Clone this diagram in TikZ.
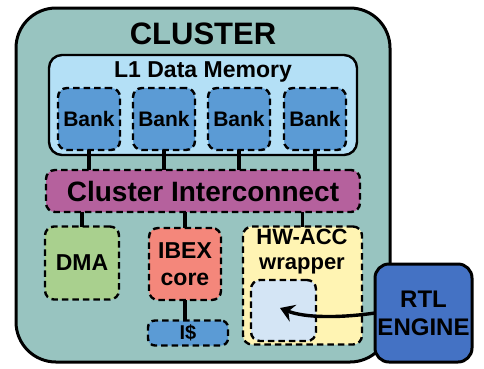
\documentclass[tikz,border=0pt]{standalone}
\usepackage{fontspec}
\setmainfont{Liberation Sans}
\usetikzlibrary{arrows.meta}
\definecolor{clusterc}{HTML}{98C4C0}
\definecolor{l1c}{HTML}{B4E0F6}
\definecolor{bankc}{HTML}{5B9BD5}
\definecolor{icc}{HTML}{B5619D}
\definecolor{dmac}{HTML}{A9D08E}
\definecolor{ibexc}{HTML}{F4877B}
\definecolor{hwc}{HTML}{FFF4B3}
\definecolor{innerc}{HTML}{D4E5F5}
\definecolor{rtlc}{HTML}{4472C4}
\tikzset{
  box/.style={draw=black, rectangle, outer sep=0pt, inner sep=0pt, align=center, font=\bfseries},
  dbox/.style={box, line width=2.4pt, dash pattern=on 6.5pt off 4pt, rounded corners=9pt},
  wire/.style={draw=black, line width=3.4pt},
  fs/.style={font=\bfseries\fontsize{#1}{#1}\selectfont}
}
\begin{document}
\begin{tikzpicture}[x=1pt,y=-1pt]
\useasboundingbox (0,0) rectangle (484,368);
% cluster
\node[box, fill=clusterc, line width=3pt, rounded corners=40pt, minimum width=374pt, minimum height=354pt] (cluster) at (203,185) {};
\node[fs=31] (clusterlbl) at (203,34) {CLUSTER};
% L1
\node[box, fill=l1c, line width=2.4pt, rounded corners=13pt, minimum width=308pt, minimum height=100pt] (l1) at (203,105) {};
\node[fs=23] (l1lbl) at (203,71.5) {L1 Data Memory};
% banks
\foreach \i/\x in {1/89,2/164,3/239,4/315}{
  \node[dbox, fill=bankc, minimum width=62pt, minimum height=62pt, fs=21] (bank\i) at (\x,119) {Bank};
}
% interconnect
\node[dbox, fill=icc, minimum width=314pt, minimum height=42pt, fs=28] (ic) at (203,191) {Cluster Interconnect};
\foreach \i in {1,...,4}{
  \draw[wire] (bank\i.south) -- (bank\i.south |- ic.north);
}
% lower blocks
\node[dbox, fill=dmac, minimum width=74pt, minimum height=73pt, fs=23] (dma) at (82,263) {DMA};
\node[dbox, fill=ibexc, minimum width=72pt, minimum height=72pt, fs=23, text depth=0pt] (ibex) at (185,264) {IBEX\\[4pt]core};
\node[dbox, fill=bankc, minimum width=80pt, minimum height=25pt, fs=20, rounded corners=7pt] (icache) at (188,333) {I\$};
\node[dbox, fill=hwc, minimum width=119pt, minimum height=118pt] (hw) at (302.5,285.5) {};
\node[fs=22, align=center] (hwlbl) at (302,252) {HW-ACC\\[3pt]wrapper};
\node[dbox, fill=innerc, minimum width=65pt, minimum height=61pt] (inner) at (283.5,310.5) {};
\draw[wire] (dma.north) -- (dma.north |- ic.south);
\draw[wire] (ibex.north) -- (ibex.north |- ic.south);
\draw[wire] (hw.north) -- (hw.north |- ic.south);
\draw[wire] (ibex.south -| icache.north) ++(-3,0) coordinate (ibs) -- (ibs |- icache.north);
% RTL engine
\node[box, fill=rtlc, line width=3pt, rounded corners=14pt, minimum width=97pt, minimum height=98pt, fs=24] (rtl) at (423.5,313) {RTL\\[4pt]ENGINE};
\coordinate (tip) at (280,308);
\draw[line width=3.4pt, -{Stealth[length=14pt,width=18pt,inset=5pt]}] (rtl.west) .. controls (340,318) and (305,318) .. (tip);
\end{tikzpicture}
\end{document}
